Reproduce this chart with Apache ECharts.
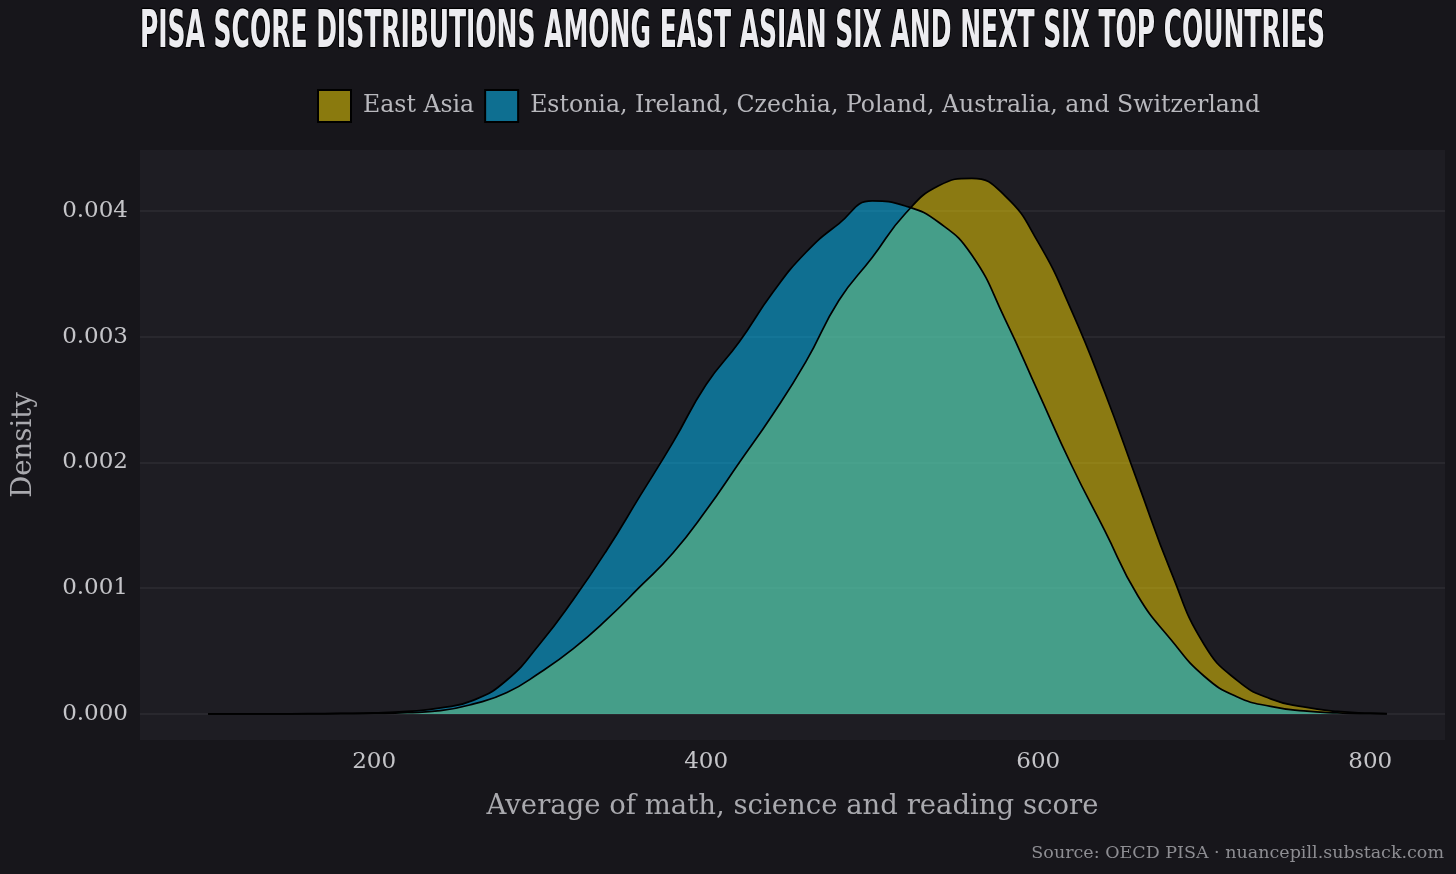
<!DOCTYPE html>
<html>
<head>
<meta charset="utf-8">
<script src="https://cdn.jsdelivr.net/npm/echarts@6/dist/echarts.min.js"></script>
<style>
  html, body { margin: 0; padding: 0; background: #17161b; }
  #chart { width: 1456px; height: 874px; }
</style>
</head>
<body>
<div id="chart"></div>
<script>
// score grid (x) and density estimates
const scores = [100, 120, 140, 160, 180, 200, 220, 240, 260, 280, 300, 320, 340, 360, 380, 400, 420, 440, 460, 480,
                500, 520, 540, 560, 580, 600, 620, 640, 660, 680, 700, 720, 740, 760, 780, 800, 810];
const eastAsia = [0, 0, 0, 0.000001, 0.000002, 0.000004, 0.00001, 0.000026, 0.00008, 0.00017, 0.00033, 0.00052,
                  0.00075, 0.00101, 0.00128, 0.00162, 0.002, 0.00238, 0.0028, 0.00329, 0.00363, 0.00398, 0.0042,
                  0.00426, 0.00412, 0.00375, 0.00321, 0.00256, 0.00184, 0.00113, 0.00055, 0.000265, 0.00012,
                  0.000056, 0.00002, 0.000006, 0.000003];
const nextSix = [0, 0, 0.000001, 0.000002, 0.000004, 0.000008, 0.00002, 0.000048, 0.00011, 0.00027, 0.00056, 0.00091,
                 0.0013, 0.00173, 0.00216, 0.00262, 0.00296, 0.00335, 0.00367, 0.0039, 0.00408, 0.00404, 0.00391,
                 0.00365, 0.00314, 0.00256, 0.00198, 0.00146, 0.00094, 0.00059, 0.0003, 0.000135, 0.00006,
                 0.000024, 0.000008, 0.000002, 0.000001];
const seriesNames = ['East Asia', 'Estonia, Ireland, Czechia, Poland, Australia, and Switzerland'];

const titleText = 'PISA SCORE DISTRIBUTIONS AMONG EAST ASIAN SIX AND NEXT SIX TOP COUNTRIES';
const titleFamily = '"Liberation Sans Narrow", "DejaVu Sans Condensed", "DejaVu Sans", sans-serif';
const serif = '"DejaVu Serif", serif';

// squeeze the title to the width it has in the original
const measure = document.createElement('canvas').getContext('2d');
measure.font = 'bold 52px ' + titleFamily;
const titleScale = 1185 / measure.measureText(titleText).width;

const toPairs = (ys) => scores.map((x, i) => [x, ys[i]]);

const chart = echarts.init(document.getElementById('chart'));
chart.setOption({
  backgroundColor: '#17161b',
  animation: false,
  graphic: [
    {
      type: 'text',
      x: 140,
      y: 33,
      scaleX: titleScale,
      style: {
        text: titleText,
        fontSize: 52,
        fontWeight: 'bold',
        fontFamily: titleFamily,
        fill: '#ececf0',
        stroke: '#000',
        lineWidth: 2.5,
        verticalAlign: 'middle'
      }
    },
    {
      type: 'text',
      right: 12,
      top: 844,
      style: {
        text: 'Source: OECD PISA · nuancepill.substack.com',
        fontSize: 17.5,
        fontFamily: serif,
        fill: '#8d8d92'
      }
    }
  ],
  legend: {
    left: 312,
    top: 84,
    itemWidth: 33,
    itemHeight: 32,
    itemGap: 10,
    icon: 'rect',
    textStyle: { color: '#b8b8bd', fontSize: 23.6, fontFamily: serif, padding: [0, 0, 0, 7] },
    data: [
      { name: seriesNames[0], itemStyle: { color: '#8a7a0e', borderColor: '#000', borderWidth: 2 } },
      { name: seriesNames[1], itemStyle: { color: '#0e6f91', borderColor: '#000', borderWidth: 2 } }
    ]
  },
  grid: {
    left: 140,
    right: 11,
    top: 150,
    bottom: 134,
    show: true,
    backgroundColor: '#1e1d23',
    borderWidth: 0
  },
  xAxis: {
    type: 'value',
    min: 59,
    max: 845,
    name: 'Average of math, science and reading score',
    nameLocation: 'middle',
    nameGap: 53,
    nameTextStyle: { color: '#a9a9ae', fontSize: 27.5, fontFamily: serif },
    axisLine: { show: false, onZero: false },
    axisTick: { show: false },
    splitLine: { show: false },
    axisLabel: {
      color: '#c4c4c8',
      fontSize: 23,
      fontFamily: serif,
      margin: 11,
      showMinLabel: false,
      showMaxLabel: false
    }
  },
  yAxis: {
    type: 'value',
    min: -0.000207,
    max: 0.004485,
    name: 'Density',
    nameLocation: 'middle',
    nameGap: 102,
    nameTextStyle: { color: '#a9a9ae', fontSize: 27.5, fontFamily: serif },
    axisLine: { show: false },
    axisTick: { show: false },
    splitLine: { show: true, showMinLine: false, showMaxLine: false, lineStyle: { color: '#2e2d33', width: 1.5 } },
    axisLabel: {
      color: '#c4c4c8',
      fontSize: 23,
      fontFamily: serif,
      margin: 12,
      showMinLabel: false,
      showMaxLabel: false,
      formatter: (v) => v.toFixed(3)
    }
  },
  series: [
    {
      name: seriesNames[0],
      type: 'line',
      data: toPairs(eastAsia),
      smooth: 0.5,
      showSymbol: false,
      lineStyle: { color: '#000', width: 1.7 },
      itemStyle: { color: '#8a7a0e' },
      areaStyle: { color: 'rgb(248, 215, 1)', opacity: 0.5 }
    },
    {
      name: seriesNames[1],
      type: 'line',
      data: toPairs(nextSix),
      smooth: 0.5,
      showSymbol: false,
      lineStyle: { color: '#000', width: 1.7 },
      itemStyle: { color: '#0e6f91' },
      areaStyle: { color: 'rgb(0, 193, 255)', opacity: 0.5 }
    }
  ]
});
</script>
</body>
</html>
